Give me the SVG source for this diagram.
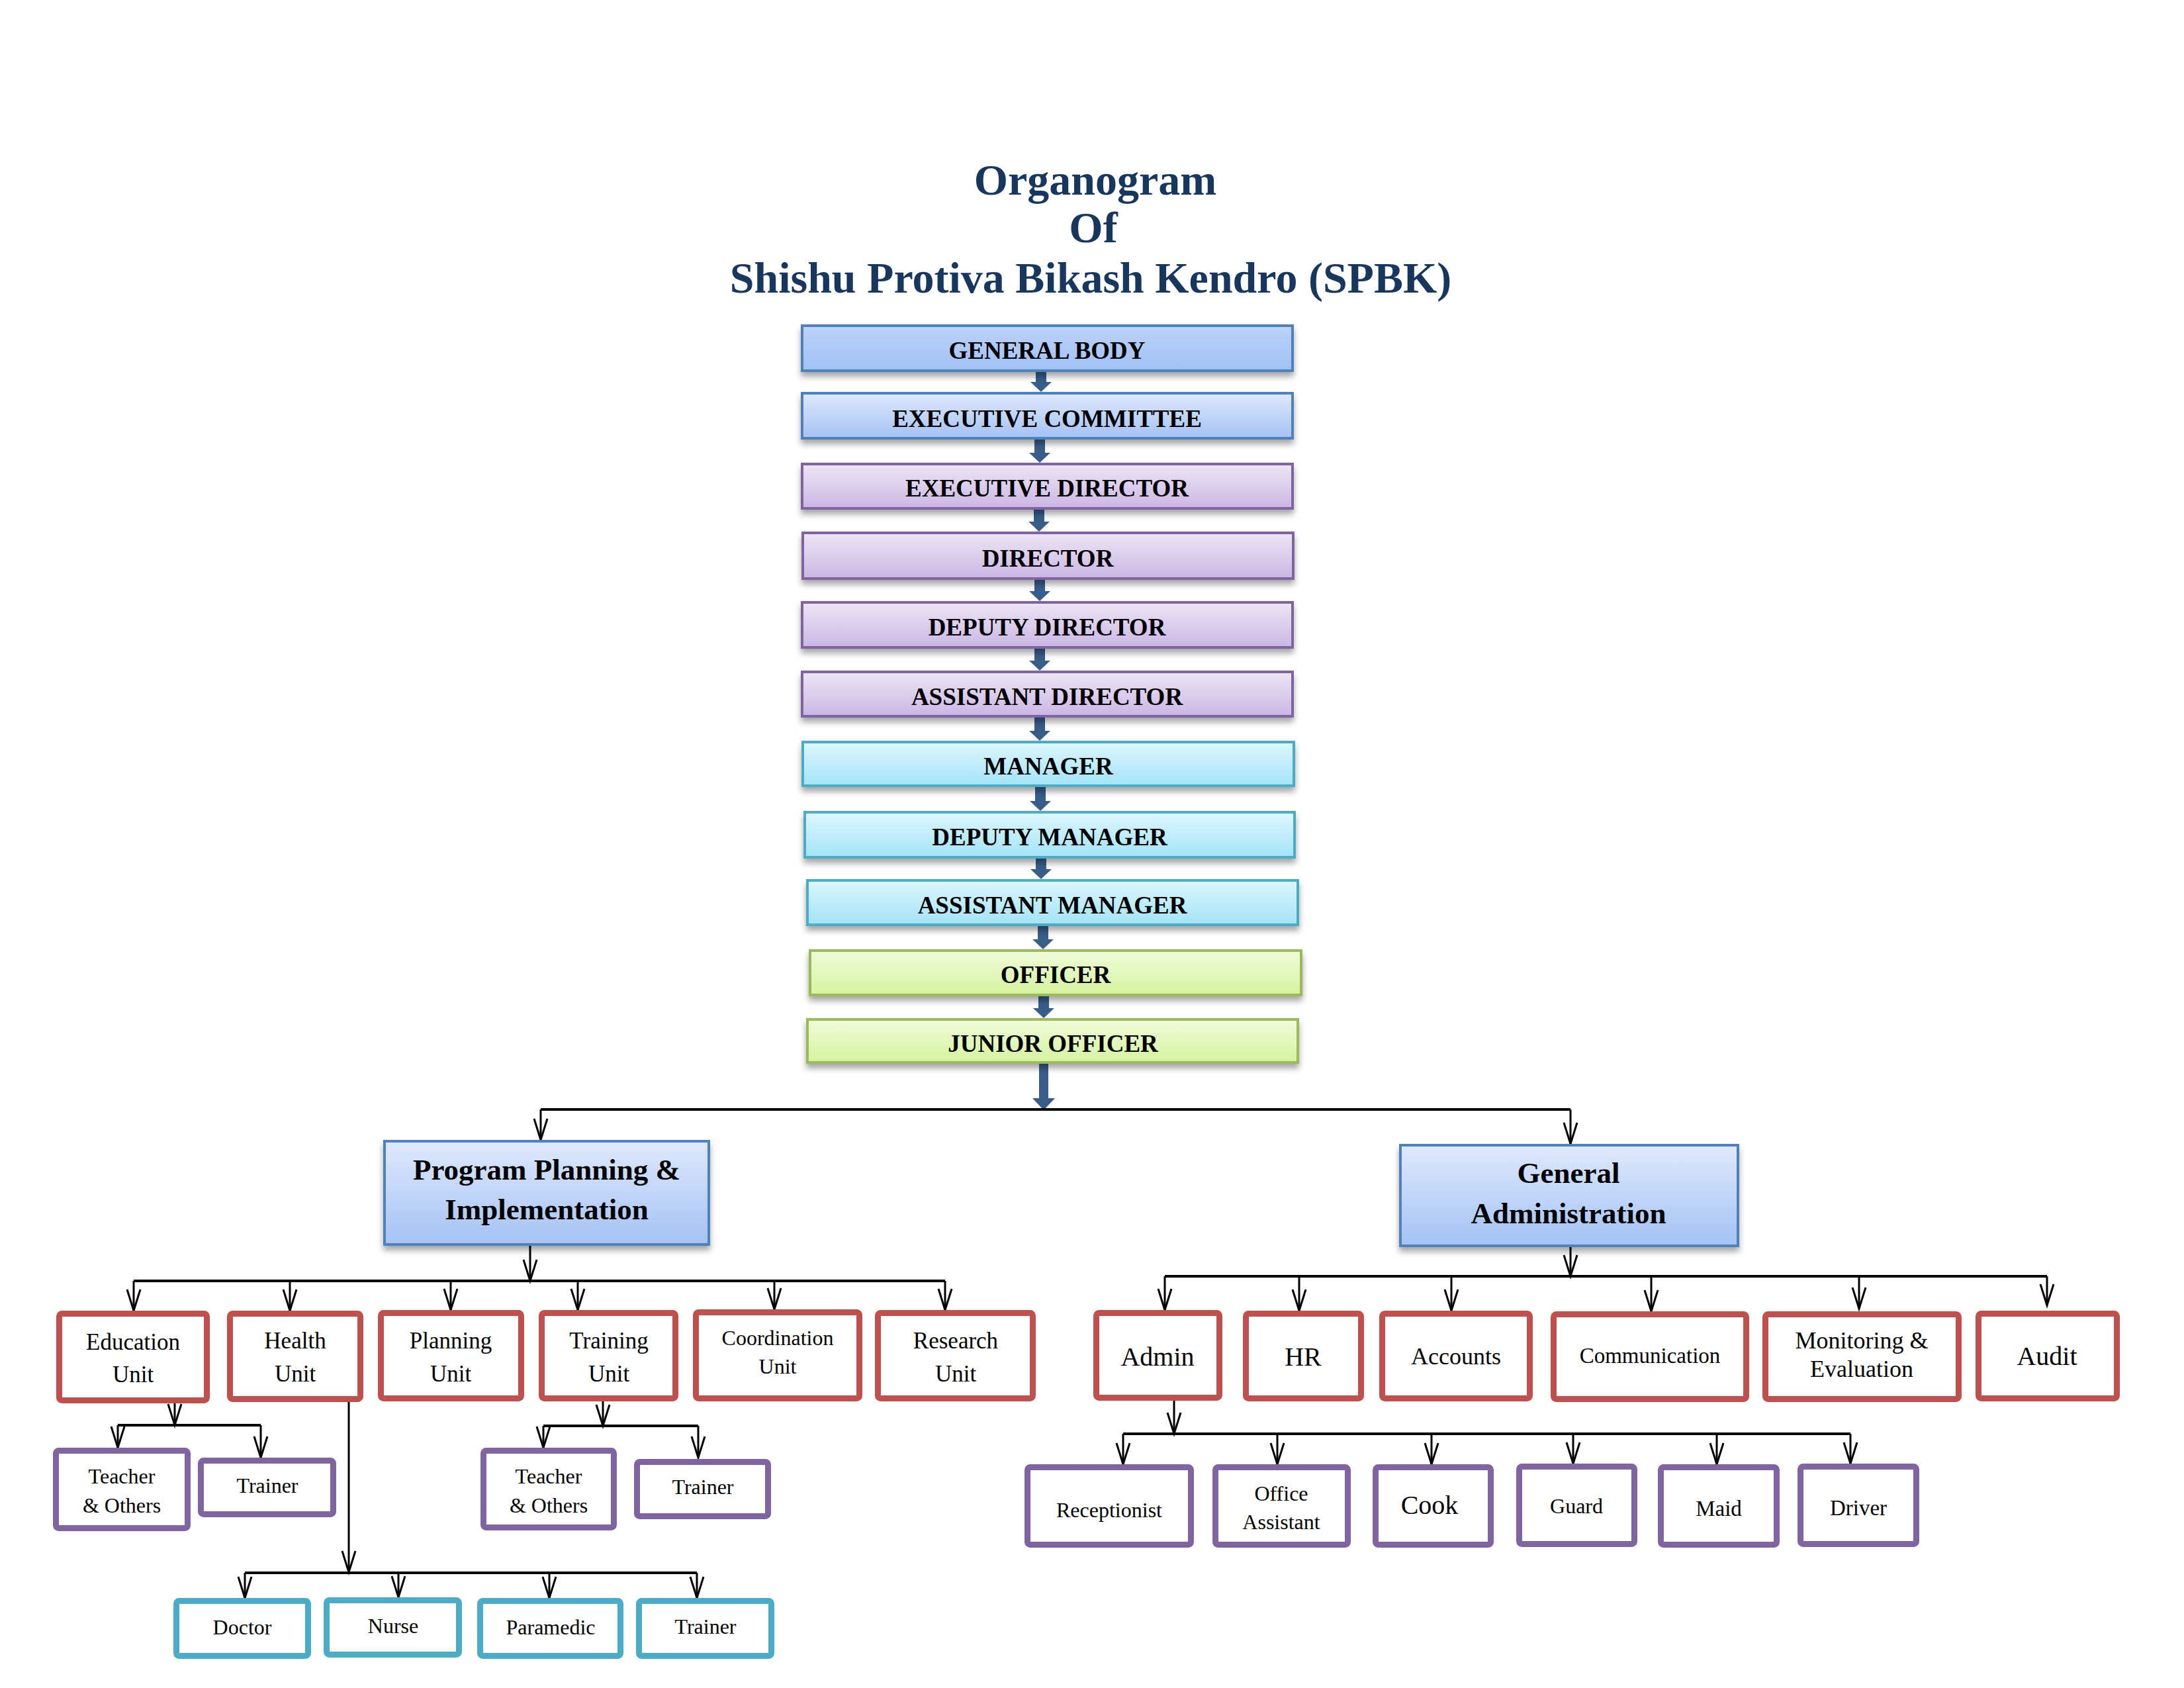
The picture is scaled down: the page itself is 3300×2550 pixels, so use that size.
<svg xmlns="http://www.w3.org/2000/svg" width="3300" height="2550" viewBox="0 0 3300 2550">
<style>
.t{font-family:"Liberation Serif","Times New Roman",serif;text-anchor:middle;fill:#000}
.title{font-family:"Liberation Serif","Times New Roman",serif;font-weight:bold;font-size:66px;text-anchor:middle;fill:#17375E}
.m{font-weight:bold;font-size:37px}
.d{font-weight:bold;font-size:45px}
.u{font-size:35px}
.s{font-size:32px}
.bl{stroke:#4F81BD;stroke-width:4}
.pu{stroke:#8064A2;stroke-width:4}
.cy{stroke:#4BACC6;stroke-width:4}
.gr{stroke:#9BBB59;stroke-width:4}
.red{fill:#fff;stroke:#C0504D;stroke-width:9}
.vio{fill:#fff;stroke:#8064A2;stroke-width:9}
.aq{fill:#fff;stroke:#4BACC6;stroke-width:9}
.ln{stroke:#000;stroke-width:3;fill:none}
.hl{stroke:#000;stroke-width:4;fill:none}
.ar{stroke:#000;stroke-width:3;fill:none;marker-end:url(#v)}
.ba{fill:#385D8A}
</style>
<defs>
<linearGradient id="gB0" x1="0" y1="0" x2="0" y2="1"><stop offset="0" stop-color="#BCD3FA"/><stop offset="1" stop-color="#A1C0F4"/></linearGradient>
<linearGradient id="gB" x1="0" y1="0" x2="0" y2="1"><stop offset="0" stop-color="#DEE9FC"/><stop offset="1" stop-color="#A4C2F4"/></linearGradient>
<linearGradient id="gP" x1="0" y1="0" x2="0" y2="1"><stop offset="0" stop-color="#EDE6F5"/><stop offset="1" stop-color="#CAB6E4"/></linearGradient>
<linearGradient id="gC" x1="0" y1="0" x2="0" y2="1"><stop offset="0" stop-color="#DEF6FD"/><stop offset="1" stop-color="#A2E4F8"/></linearGradient>
<linearGradient id="gG" x1="0" y1="0" x2="0" y2="1"><stop offset="0" stop-color="#F1FBDB"/><stop offset="1" stop-color="#D4F39E"/></linearGradient>
<filter id="sh" x="-5%" y="-20%" width="110%" height="160%"><feDropShadow dx="0" dy="7" stdDeviation="5" flood-color="#000" flood-opacity="0.35"/></filter>
<marker id="v" markerUnits="userSpaceOnUse" markerWidth="34" markerHeight="30" refX="32" refY="15" orient="auto" viewBox="0 0 34 30" overflow="visible"><path d="M0,5 L32,15 L0,25" fill="none" stroke="#000" stroke-width="3"/></marker>
</defs>
<rect width="3300" height="2550" fill="#fff"/>

<g id="title">
<text class="title" x="1655" y="294">Organogram</text>
<text class="title" x="1652" y="366">Of</text>
<text class="title" x="1648" y="442">Shishu Protiva Bikash Kendro (SPBK)</text>
</g>

<g id="connectors">
<path class="ba" d="M1565,562 H1581 V577 H1589 L1573,592 L1557,577 H1565 Z"/>
<path class="ba" d="M1563,664 H1579 V684 H1587 L1571,699 L1555,684 H1563 Z"/>
<path class="ba" d="M1562,770 H1578 V788 H1586 L1570,803 L1554,788 H1562 Z"/>
<path class="ba" d="M1563,876 H1579 V893 H1587 L1571,908 L1555,893 H1563 Z"/>
<path class="ba" d="M1563,980 H1579 V998 H1587 L1571,1013 L1555,998 H1563 Z"/>
<path class="ba" d="M1563,1084 H1579 V1104 H1587 L1571,1119 L1555,1104 H1563 Z"/>
<path class="ba" d="M1564,1189 H1580 V1210 H1588 L1572,1225 L1556,1210 H1564 Z"/>
<path class="ba" d="M1565,1297 H1581 V1313 H1589 L1573,1328 L1557,1313 H1565 Z"/>
<path class="ba" d="M1568,1399 H1584 V1419 H1592 L1576,1434 L1560,1419 H1568 Z"/>
<path class="ba" d="M1569,1505 H1585 V1523 H1593 L1577,1538 L1561,1523 H1569 Z"/>
<path class="ba" d="M1570,1607 H1584 V1659 H1594 L1577,1677 L1560,1659 H1570 Z"/>

<path class="hl" d="M817,1676 H2373"/>
<path class="ar" d="M817,1676 V1722"/>
<path class="ar" d="M2373,1676 V1728"/>

<path class="ar" d="M801,1882 V1935"/>
<path class="hl" d="M202,1935 H1428"/>
<path class="ar" d="M202,1935 V1980"/>
<path class="ar" d="M438,1935 V1980"/>
<path class="ar" d="M681,1935 V1979"/>
<path class="ar" d="M873,1935 V1979"/>
<path class="ar" d="M1170,1935 V1978"/>
<path class="ar" d="M1428,1935 V1979"/>

<path class="ar" d="M264,2120 V2153"/>
<path class="hl" d="M178,2153 H394"/>
<path class="ar" d="M178,2153 V2187"/>
<path class="ar" d="M394,2153 V2202"/>

<path class="ar" d="M527,2117 V2375"/>
<path class="hl" d="M370,2376 H1053"/>
<path class="ar" d="M370,2376 V2414"/>
<path class="ar" d="M602,2376 V2413"/>
<path class="ar" d="M830,2376 V2414"/>
<path class="ar" d="M1053,2376 V2414"/>

<path class="ar" d="M911,2117 V2154"/>
<path class="hl" d="M821,2154 H1055"/>
<path class="ar" d="M821,2154 V2187"/>
<path class="ar" d="M1055,2154 V2202"/>

<path class="ar" d="M2373,1884 V1928"/>
<path class="hl" d="M1760,1928 H3093"/>
<path class="ar" d="M1760,1928 V1979"/>
<path class="ar" d="M1963,1928 V1980"/>
<path class="ar" d="M2193,1928 V1980"/>
<path class="ar" d="M2495,1928 V1981"/>
<path class="ar" d="M2809,1928 V1977"/>
<path class="ar" d="M3093,1928 V1972"/>

<path class="ar" d="M1774,2116 V2166"/>
<path class="hl" d="M1697,2166 H2796"/>
<path class="ar" d="M1697,2166 V2212"/>
<path class="ar" d="M1930,2166 V2212"/>
<path class="ar" d="M2163,2166 V2212"/>
<path class="ar" d="M2377,2166 V2211"/>
<path class="ar" d="M2594,2166 V2212"/>
<path class="ar" d="M2796,2166 V2211"/>
</g>

<g id="general-body"><rect class="bl" x="1212" y="492" width="741" height="68" fill="url(#gB0)" filter="url(#sh)"/><text class="t m" x="1582" y="542">GENERAL BODY</text></g>
<g id="executive-committee"><rect class="bl" x="1212" y="594" width="741" height="68" fill="url(#gB)" filter="url(#sh)"/><text class="t m" x="1582" y="645">EXECUTIVE COMMITTEE</text></g>
<g id="executive-director"><rect class="pu" x="1212" y="701" width="741" height="67" fill="url(#gP)" filter="url(#sh)"/><text class="t m" x="1582" y="750">EXECUTIVE DIRECTOR</text></g>
<g id="director"><rect class="pu" x="1213" y="805" width="741" height="69" fill="url(#gP)" filter="url(#sh)"/><text class="t m" x="1583" y="856">DIRECTOR</text></g>
<g id="deputy-director"><rect class="pu" x="1212" y="910" width="741" height="68" fill="url(#gP)" filter="url(#sh)"/><text class="t m" x="1582" y="960">DEPUTY DIRECTOR</text></g>
<g id="assistant-director"><rect class="pu" x="1212" y="1015" width="741" height="67" fill="url(#gP)" filter="url(#sh)"/><text class="t m" x="1582" y="1065">ASSISTANT DIRECTOR</text></g>
<g id="manager"><rect class="cy" x="1213" y="1121" width="742" height="66" fill="url(#gC)" filter="url(#sh)"/><text class="t m" x="1584" y="1170">MANAGER</text></g>
<g id="deputy-manager"><rect class="cy" x="1216" y="1227" width="740" height="68" fill="url(#gC)" filter="url(#sh)"/><text class="t m" x="1586" y="1277">DEPUTY MANAGER</text></g>
<g id="assistant-manager"><rect class="cy" x="1220" y="1330" width="741" height="67" fill="url(#gC)" filter="url(#sh)"/><text class="t m" x="1590" y="1380">ASSISTANT MANAGER</text></g>
<g id="officer"><rect class="gr" x="1224" y="1436" width="742" height="67" fill="url(#gG)" filter="url(#sh)"/><text class="t m" x="1595" y="1485">OFFICER</text></g>
<g id="junior-officer"><rect class="gr" x="1220" y="1540" width="741" height="65" fill="url(#gG)" filter="url(#sh)"/><text class="t m" x="1591" y="1589">JUNIOR OFFICER</text></g>

<g id="program-planning"><rect class="bl" x="581" y="1724" width="490" height="156" fill="url(#gB)" filter="url(#sh)"/><text class="t d" x="826" y="1782">Program Planning &amp;</text><text class="t d" x="826" y="1842">Implementation</text></g>
<g id="general-administration"><rect class="bl" x="2116" y="1730" width="510" height="152" fill="url(#gB)" filter="url(#sh)"/><text class="t d" x="2370" y="1787">General</text><text class="t d" x="2370" y="1848">Administration</text></g>

<g id="education-unit"><rect class="red" x="89.5" y="1984.5" width="223" height="131" rx="4"/><text class="t u" x="201" y="2039">Education</text><text class="t u" x="201" y="2088">Unit</text></g>
<g id="health-unit"><rect class="red" x="347.5" y="1984.5" width="197" height="129" rx="4"/><text class="t u" x="446" y="2037">Health</text><text class="t u" x="446" y="2087">Unit</text></g>
<g id="planning-unit"><rect class="red" x="575.5" y="1983.5" width="212" height="129" rx="4"/><text class="t u" x="681" y="2037">Planning</text><text class="t u" x="681" y="2087">Unit</text></g>
<g id="training-unit"><rect class="red" x="818.5" y="1983.5" width="202" height="129" rx="4"/><text class="t u" x="920" y="2037">Training</text><text class="t u" x="920" y="2087">Unit</text></g>
<g id="coordination-unit"><rect class="red" x="1051.5" y="1982.5" width="247" height="130" rx="4"/><text class="t s" x="1175" y="2032">Coordination</text><text class="t s" x="1175" y="2075">Unit</text></g>
<g id="research-unit"><rect class="red" x="1326.5" y="1983.5" width="234" height="129" rx="4"/><text class="t u" x="1444" y="2037">Research</text><text class="t u" x="1444" y="2087">Unit</text></g>

<g id="edu-teacher"><rect class="vio" x="84.5" y="2191.5" width="199" height="117" rx="4"/><text class="t s" x="184" y="2241">Teacher</text><text class="t s" x="184" y="2285">&amp; Others</text></g>
<g id="edu-trainer"><rect class="vio" x="303.5" y="2206.5" width="200" height="81" rx="4"/><text class="t s" x="404" y="2255">Trainer</text></g>
<g id="tr-teacher"><rect class="vio" x="730.5" y="2191.5" width="197" height="116" rx="4"/><text class="t s" x="829" y="2241">Teacher</text><text class="t s" x="829" y="2285">&amp; Others</text></g>
<g id="tr-trainer"><rect class="vio" x="962.5" y="2208.5" width="198" height="82" rx="4"/><text class="t s" x="1062" y="2257">Trainer</text></g>

<g id="doctor"><rect class="aq" x="266.5" y="2418.5" width="199" height="83" rx="4"/><text class="t s" x="366" y="2469">Doctor</text></g>
<g id="nurse"><rect class="aq" x="493.5" y="2417.5" width="200" height="82" rx="4"/><text class="t s" x="594" y="2467">Nurse</text></g>
<g id="paramedic"><rect class="aq" x="725.5" y="2418.5" width="212" height="83" rx="4"/><text class="t s" x="832" y="2469">Paramedic</text></g>
<g id="trainer-health"><rect class="aq" x="965.5" y="2418.5" width="200" height="83" rx="4"/><text class="t s" x="1066" y="2468">Trainer</text></g>

<g id="admin"><rect class="red" x="1656.5" y="1983.5" width="186" height="128" rx="4"/><text class="t" font-size="40" x="1749" y="2063">Admin</text></g>
<g id="hr"><rect class="red" x="1882.5" y="1984.5" width="174" height="128" rx="4"/><text class="t" font-size="40" x="1969" y="2063">HR</text></g>
<g id="accounts"><rect class="red" x="2088.5" y="1984.5" width="223" height="128" rx="4"/><text class="t" font-size="36" x="2200" y="2061">Accounts</text></g>
<g id="communication"><rect class="red" x="2347.5" y="1985.5" width="291" height="128" rx="4"/><text class="t" font-size="33" x="2493" y="2059">Communication</text></g>
<g id="monitoring"><rect class="red" x="2667.5" y="1985.5" width="292" height="128" rx="4"/><text class="t" font-size="36" x="2813" y="2037">Monitoring &amp;</text><text class="t" font-size="36" x="2813" y="2080">Evaluation</text></g>
<g id="audit"><rect class="red" x="2989.5" y="1984.5" width="209" height="128" rx="4"/><text class="t" font-size="40" x="3093" y="2062">Audit</text></g>

<g id="receptionist"><rect class="vio" x="1552.5" y="2216.5" width="247" height="117" rx="4"/><text class="t s" x="1676" y="2292">Receptionist</text></g>
<g id="office-assistant"><rect class="vio" x="1836.5" y="2216.5" width="200" height="117" rx="4"/><text class="t s" x="1936" y="2267">Office</text><text class="t s" x="1936" y="2310">Assistant</text></g>
<g id="cook"><rect class="vio" x="2078.5" y="2216.5" width="174" height="117" rx="4"/><text class="t" font-size="40" x="2160" y="2287">Cook</text></g>
<g id="guard"><rect class="vio" x="2295.5" y="2215.5" width="174" height="117" rx="4"/><text class="t s" x="2382" y="2286">Guard</text></g>
<g id="maid"><rect class="vio" x="2509.5" y="2216.5" width="175" height="117" rx="4"/><text class="t" font-size="33" x="2597" y="2290">Maid</text></g>
<g id="driver"><rect class="vio" x="2720.5" y="2215.5" width="175" height="117" rx="4"/><text class="t" font-size="33" x="2808" y="2289">Driver</text></g>
</svg>
